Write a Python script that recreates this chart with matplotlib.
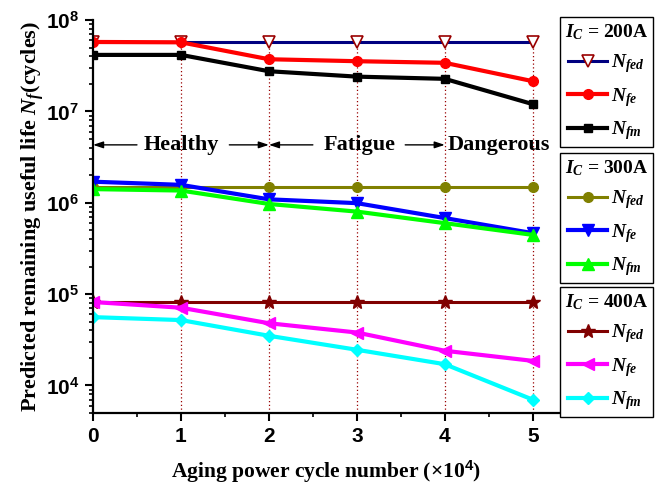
import matplotlib
matplotlib.use("Agg")
import matplotlib.pyplot as plt
import numpy as np
from matplotlib.ticker import FixedLocator, NullFormatter

plt.rcParams['mathtext.fontset'] = 'custom'
plt.rcParams['mathtext.it'] = 'Liberation Serif:italic:bold'
plt.rcParams['mathtext.rm'] = 'Liberation Serif:bold'
plt.rcParams['mathtext.bf'] = 'Liberation Sans:bold'

cycles = [0, 1, 2, 3, 4, 5]

# IC = 200A
fed_200 = [5.8e7, 5.8e7, 5.8e7, 5.8e7, 5.8e7, 5.8e7]
fe_200 = [5.75e7, 5.7e7, 3.72e7, 3.54e7, 3.4e7, 2.14e7]
fm_200 = [4.15e7, 4.15e7, 2.75e7, 2.4e7, 2.27e7, 1.2e7]

# IC = 300A
fed_300 = [1.47e6, 1.47e6, 1.47e6, 1.47e6, 1.47e6, 1.47e6]
fe_300 = [1.7e6, 1.57e6, 1.09e6, 9.9e5, 6.8e5, 4.65e5]
fm_300 = [1.41e6, 1.36e6, 9.7e5, 8.0e5, 5.98e5, 4.45e5]

# IC = 400A
fed_400 = [8.3e4, 8.3e4, 8.3e4, 8.3e4, 8.3e4, 8.3e4]
fe_400 = [8.2e4, 7.1e4, 4.8e4, 3.8e4, 2.4e4, 1.86e4]
fm_400 = [5.6e4, 5.2e4, 3.5e4, 2.46e4, 1.71e4, 7.0e3]

fig = plt.figure(figsize=(6.59, 4.93), dpi=100)
ax = fig.add_axes([93/659, 1-413/493, (560-93)/659, (413-20)/493])

# dotted stage lines
for xv in cycles[1:]:
    ax.plot([xv, xv], [5e3, fed_200[0]], ls=(0, (1, 2)), color='#990000', lw=0.9, zorder=1)

ms = 7
l1, = ax.plot(cycles, fed_200, color='#000080', lw=2.2, marker='v', ms=ms+1, mfc='white', mec='#990000', mew=1.2, label='$N_{fed}$')
l2, = ax.plot(cycles, fe_200, color='#ff0000', lw=3, marker='o', ms=ms, label='$N_{fe}$')
l3, = ax.plot(cycles, fm_200, color='black', lw=3, marker='s', ms=ms-1, label='$N_{fm}$')

l4, = ax.plot(cycles, fed_300, color='#808000', lw=2.2, marker='o', ms=ms, label='$N_{fed}$')
l5, = ax.plot(cycles, fe_300, color='#0000ff', lw=3, marker='v', ms=ms+1, label='$N_{fe}$')
l6, = ax.plot(cycles, fm_300, color='#00ff00', lw=3, marker='^', ms=ms+1, label='$N_{fm}$')

l7, = ax.plot(cycles, fed_400, color='#800000', lw=2.2, marker='*', ms=ms+3, label='$N_{fed}$')
l8, = ax.plot(cycles, fe_400, color='#ff00ff', lw=3, marker='<', ms=ms+1, label='$N_{fe}$')
l9, = ax.plot(cycles, fm_400, color='#00ffff', lw=3, marker='D', ms=ms-1, label='$N_{fm}$')

ax.set_yscale('log')
ax.set_xlim(0, 5.31)
ax.set_ylim(5e3, 1e8)
for s in ['top', 'right']:
    ax.spines[s].set_visible(False)
for s in ['left', 'bottom']:
    ax.spines[s].set_linewidth(1.6)

ax.set_xticks(cycles)
ax.set_xticks([0.5, 1.5, 2.5, 3.5, 4.5], minor=True)
ax.set_xticklabels([str(c) for c in cycles], fontfamily='Liberation Sans', fontweight='bold', fontsize=15)

majors = [1e4, 1e5, 1e6, 1e7, 1e8]
ax.yaxis.set_major_locator(FixedLocator(majors))
ax.set_yticklabels(['$\\mathbf{10^{%d}}$' % e for e in range(4, 9)], fontsize=15)
minors = [m * 10**e for e in range(3, 8) for m in range(2, 10) if 5e3 <= m * 10**e < 1e8]
ax.yaxis.set_minor_locator(FixedLocator(minors))
ax.yaxis.set_minor_formatter(NullFormatter())
ax.tick_params(which='major', direction='out', length=6, width=1.5, pad=4)
ax.tick_params(which='minor', direction='out', length=3, width=1.2)

ax.set_ylabel('Predicted remaining useful life $N_f$(cycles)', fontfamily='Liberation Serif',
              fontweight='bold', fontsize=16, labelpad=0)
ax.set_xlabel('Aging power cycle number (×10$^{\\mathbf{4}}$)', fontfamily='Liberation Serif',
              fontweight='bold', fontsize=15.5, labelpad=9)

# stage annotations
ya = 4.3e6
tkw = dict(fontfamily='Liberation Serif', fontweight='bold', fontsize=16, va='center')
akw = dict(arrowstyle='-|>,head_length=0.6,head_width=0.2', color='black', lw=1, shrinkA=0, shrinkB=0)
ax.text(1.0, ya, 'Healthy', ha='center', **tkw)
ax.annotate('', xy=(0, ya), xytext=(0.5, ya), arrowprops=akw)
ax.annotate('', xy=(2, ya), xytext=(1.55, ya), arrowprops=akw)
ax.text(3.03, ya, 'Fatigue', ha='center', **tkw)
ax.annotate('', xy=(2, ya), xytext=(2.5, ya), arrowprops=akw)
ax.annotate('', xy=(4, ya), xytext=(3.55, ya), arrowprops=akw)
ax.text(4.03, ya, 'Dangerous', ha='left', **tkw)

lkw = dict(loc='upper left', bbox_transform=fig.transFigure, frameon=True, fancybox=False,
           edgecolor='black', framealpha=1, fontsize=14, handlelength=2.0, labelspacing=0.55,
           borderpad=0.25, handletextpad=0.2, borderaxespad=0)
leg1 = ax.legend(handles=[l1, l2, l3], bbox_to_anchor=(560/659, 1-17/493),
                 title='$I_C$ = 200A', **lkw)
ax.add_artist(leg1)
leg2 = ax.legend(handles=[l4, l5, l6], bbox_to_anchor=(560/659, 1-153/493),
                 title='$I_C$ = 300A', **lkw)
ax.add_artist(leg2)
leg3 = ax.legend(handles=[l7, l8, l9], bbox_to_anchor=(560/659, 1-287/493),
                 title='$I_C$ = 400A', **lkw)
for lg in (leg1, leg2, leg3):
    lg.get_frame().set_linewidth(1.0)
    t = lg.get_title()
    t.set_fontfamily('Liberation Serif')
    t.set_fontweight('bold')
    t.set_fontsize(14)

fig.savefig('out.png', dpi=100)
